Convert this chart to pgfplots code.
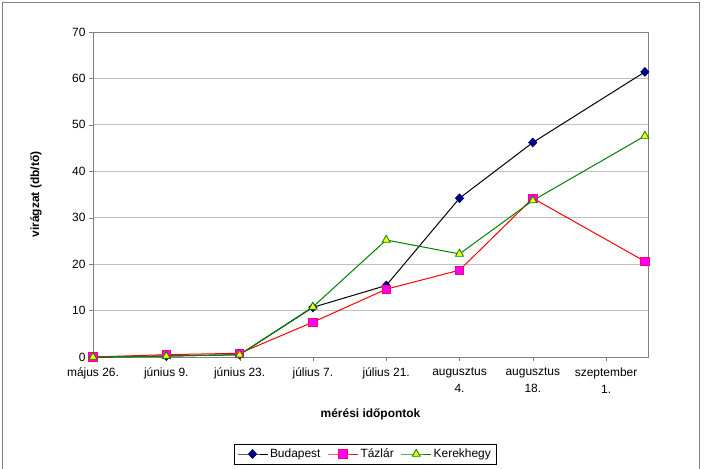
\documentclass[border=0pt]{standalone}
\usepackage{fontspec}
\setmainfont{Liberation Sans}
\usepackage{pgfplots}
\pgfplotsset{compat=1.18}
\definecolor{bpnavy}{HTML}{000080}
\definecolor{tzline}{HTML}{FF0000}
\definecolor{tzfill}{HTML}{FF00FF}
\definecolor{tzedge}{HTML}{FF0066}
\definecolor{kgline}{HTML}{008000}
\definecolor{kgfill}{HTML}{FFFF00}
\definecolor{gridc}{HTML}{C0C0C0}
\definecolor{axc}{HTML}{808080}
\begin{document}
\begin{tikzpicture}
\useasboundingbox (0,0) rectangle (704bp,469bp);
\draw[axc, line width=1bp] (2bp,-5bp) rectangle (699bp,466bp);
\begin{axis}[
  at={(93bp,112bp)}, anchor=south west,
  scale only axis, width=555bp, height=325bp,
  xmin=0, xmax=106, ymin=0, ymax=70,
  xtick={0,14,28,42,56,70,84,98},
  xticklabels={május 26., június 9., június 23., július 7., július 21., augusztus\\4., augusztus\\18., szeptember\\1.},
  ytick={0,10,...,70},
  /pgf/number format/assume math mode=true,
  tick label style={font=\fontsize{12}{17}\selectfont},
  xticklabel style={align=center, yshift=-3bp},
  tick align=outside, major tick length=4bp,
  xtick pos=bottom, ytick pos=left,
  axis line style={axc, line width=0.9bp},
  ymajorgrids, grid style={gridc, line width=0.8bp},
  xlabel={\bfseries mérési időpontok},
  ylabel={\bfseries virágzat (db/tő)},
  label style={font=\fontsize{12}{14}\selectfont},
  xlabel style={at={(axis description cs:0.5,0)}, anchor=center, yshift=-57bp},
  ylabel style={at={(axis description cs:0,0.5)}, anchor=center, yshift=57bp},
  legend style={at={(rel axis cs:0.49,-0.2985)}, anchor=center, draw=black, line width=0.6bp,
    font=\fontsize{12}{14}\selectfont, legend columns=3,
    /tikz/every even column/.append style={column sep=5bp},
    inner xsep=3bp, inner ysep=3bp},
  legend image code/.code={\draw[mark repeat=2,mark phase=2] plot coordinates {(0bp,0bp)(15bp,0bp)(30bp,0bp)};},
  clip=false,
]
\addplot[black, line width=1bp, mark=diamond*, mark size=4.2bp, mark options={fill=bpnavy, draw=bpnavy, solid, xscale=1.25}]
  coordinates {(0,0) (14,0.2) (28,0.5) (42,10.7) (56,15.4) (70,34.2) (84,46.2) (105.4,61.4)};
\addlegendentry{Budapest}
\addplot[tzline, line width=1bp, mark=square*, mark size=4.2bp, mark options={fill=tzfill, draw=tzedge, line width=0.8bp, solid}]
  coordinates {(0,0) (14,0.5) (28,0.8) (42,7.5) (56,14.6) (70,18.7) (84,34.2) (105.4,20.6)};
\addlegendentry{Tázlár}
\addplot[kgline, line width=1bp, mark=triangle*, mark size=4.6bp, mark options={fill=kgfill, draw=kgline, line width=0.8bp, solid}]
  coordinates {(0,0) (14,0.2) (28,0.5) (42,10.8) (56,25.2) (70,22.2) (84,33.7) (105.4,47.6)};
\addlegendentry{Kerekhegy}
\end{axis}
\end{tikzpicture}
\end{document}
